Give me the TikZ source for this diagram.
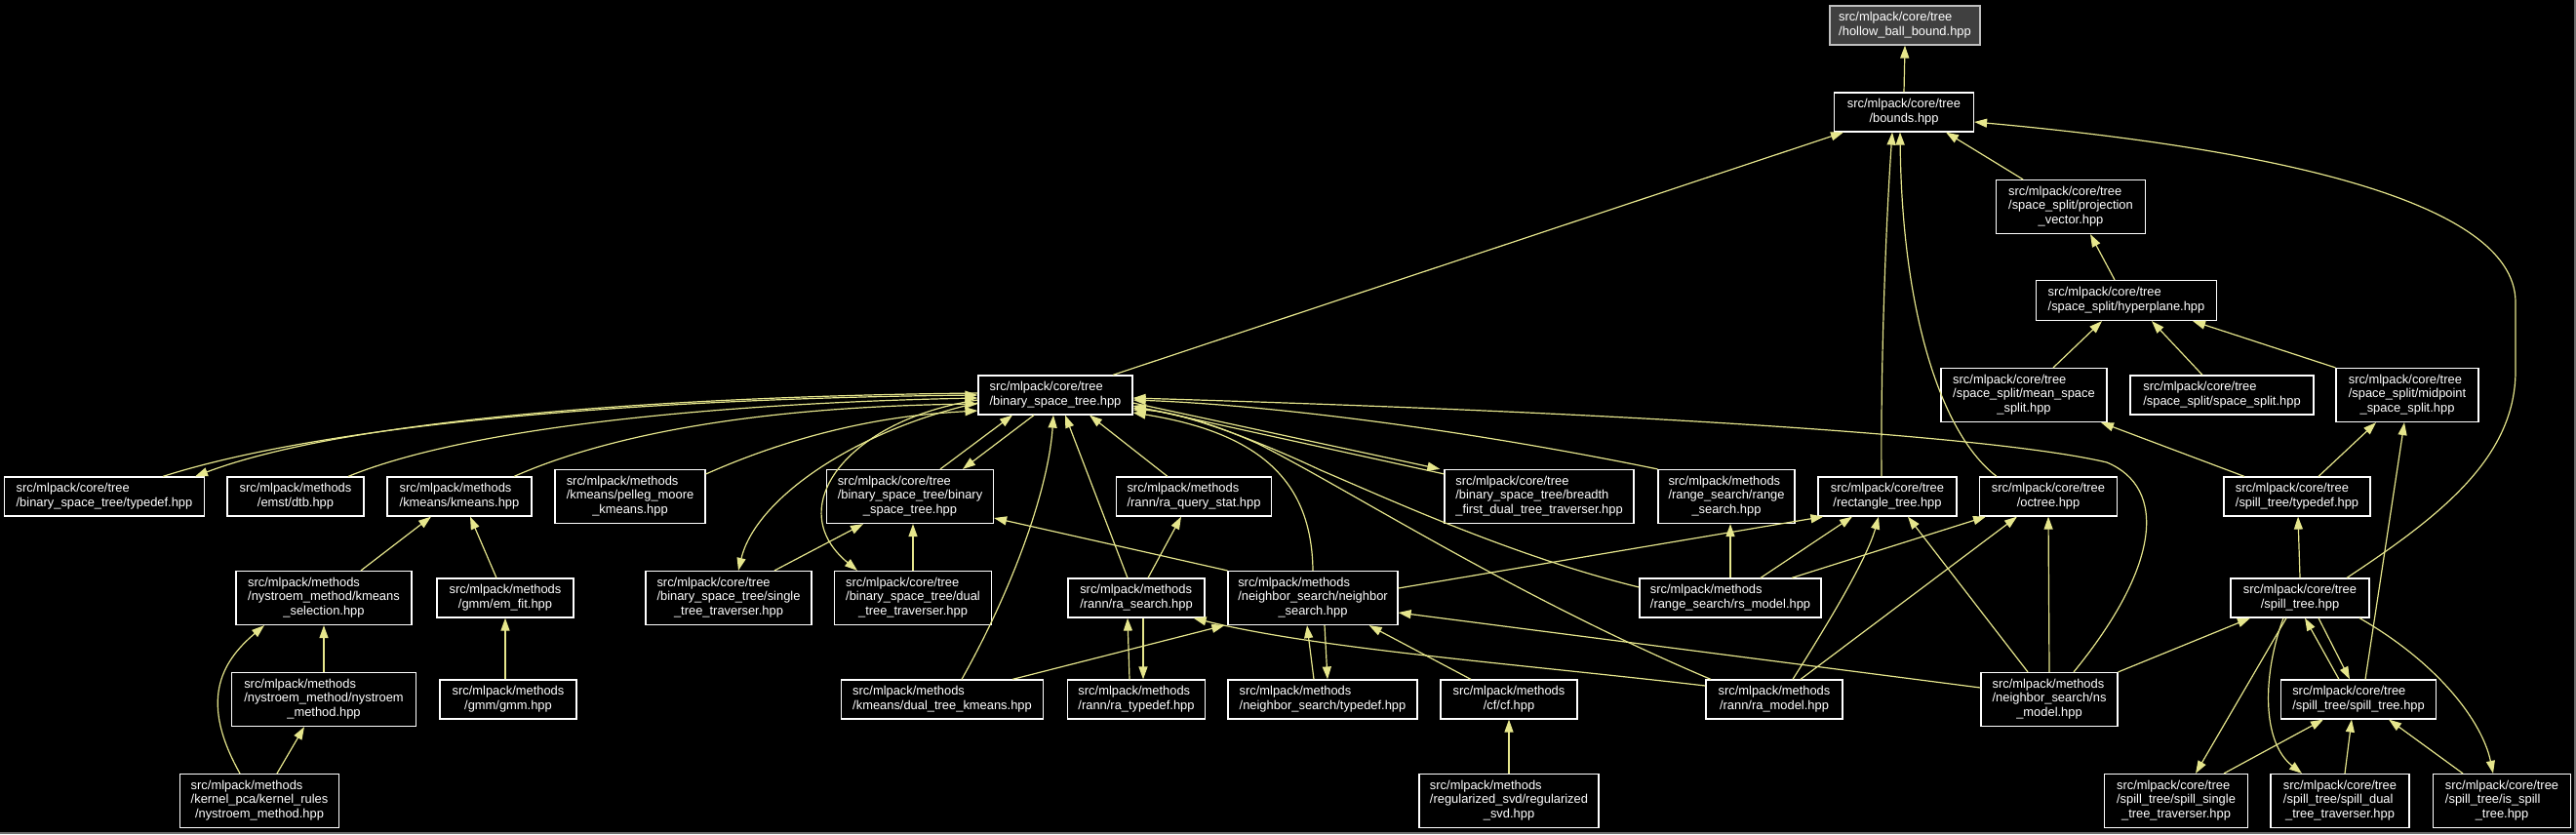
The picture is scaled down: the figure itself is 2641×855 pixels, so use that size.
\documentclass[tikz,border=0pt]{standalone}
\usepackage{fontspec}
\setmainfont{Liberation Sans}
\usetikzlibrary{arrows.meta}
\definecolor{edgec}{RGB}{230,230,140}
\definecolor{hollowfill}{RGB}{64,64,64}
\definecolor{hollowdraw}{RGB}{191,191,191}
\definecolor{framec}{RGB}{110,110,110}
\newcommand{\lbltwo}[2]{\begin{tabular}{@{}l@{}}#1\\\multicolumn{1}{@{}c@{}}{#2}\end{tabular}}
\newcommand{\lblthree}[3]{\begin{tabular}{@{}l@{}}#1\\#2\\\multicolumn{1}{@{}c@{}}{#3}\end{tabular}}
\begin{document}
\begin{tikzpicture}[x=1pt,y=-1pt,
  box/.style={draw=white, fill=black, text=white, line width=1.2pt, inner sep=0pt,
    font=\fontsize{12.9}{14.3}\selectfont},
  hbox/.style={box, fill=hollowfill, draw=hollowdraw},
  edge/.style={draw=edgec, line width=1.2pt, -{Triangle[length=13pt,width=9pt]}}]
\fill[black] (0,0) rectangle (2641,855);
\useasboundingbox (0,0) rectangle (2641,855);
\draw[framec, line width=2pt] (0,854) -- (2640,854) -- (2640,0);

% nodes
\node[hbox, minimum width=154pt, minimum height=40pt] (hollow) at (1953,26) {\lbltwo{src/mlpack/core/tree}{/hollow\_ball\_bound.hpp}};
\node[box, minimum width=143pt, minimum height=40pt] (bounds) at (1952,115) {\lbltwo{src/mlpack/core/tree}{/bounds.hpp}};
\node[box, minimum width=153pt, minimum height=55pt] (projvec) at (2123,212) {\lblthree{src/mlpack/core/tree}{/space\_split/projection}{\_vector.hpp}};
\node[box, minimum width=185pt, minimum height=41pt] (hyperplane) at (2180,308) {\lbltwo{src/mlpack/core/tree}{/space\_split/hyperplane.hpp}};
\node[box, minimum width=170pt, minimum height=55pt] (meansplit) at (2075,405) {\lblthree{src/mlpack/core/tree}{/space\_split/mean\_space}{\_split.hpp}};
\node[box, minimum width=188pt, minimum height=40pt] (spacesplit) at (2278,405) {\lbltwo{src/mlpack/core/tree}{/space\_split/space\_split.hpp}};
\node[box, minimum width=146pt, minimum height=55pt] (midpoint) at (2468,405) {\lblthree{src/mlpack/core/tree}{/space\_split/midpoint}{\_space\_split.hpp}};
\node[box, minimum width=158pt, minimum height=40pt] (bst) at (1082,405) {\lbltwo{src/mlpack/core/tree}{/binary\_space\_tree.hpp}};

\node[box, minimum width=205pt, minimum height=40pt] (bsttypedef) at (107,509) {\lbltwo{src/mlpack/core/tree}{/binary\_space\_tree/typedef.hpp}};
\node[box, minimum width=140pt, minimum height=40pt] (dtb) at (303,509) {\lbltwo{src/mlpack/methods}{/emst/dtb.hpp}};
\node[box, minimum width=148pt, minimum height=40pt] (kmeans) at (471,509) {\lbltwo{src/mlpack/methods}{/kmeans/kmeans.hpp}};
\node[box, minimum width=154pt, minimum height=55pt] (pelleg) at (646,509) {\lblthree{src/mlpack/methods}{/kmeans/pelleg\_moore}{\_kmeans.hpp}};
\node[box, minimum width=171pt, minimum height=55pt] (bstbst) at (933,509) {\lblthree{src/mlpack/core/tree}{/binary\_space\_tree/binary}{\_space\_tree.hpp}};
\node[box, minimum width=159pt, minimum height=40pt] (raquery) at (1224,509) {\lbltwo{src/mlpack/methods}{/rann/ra\_query\_stat.hpp}};
\node[box, minimum width=194pt, minimum height=55pt] (breadth) at (1578,509) {\lblthree{src/mlpack/core/tree}{/binary\_space\_tree/breadth}{\_first\_dual\_tree\_traverser.hpp}};
\node[box, minimum width=140pt, minimum height=55pt] (rangesearch) at (1770,509) {\lblthree{src/mlpack/methods}{/range\_search/range}{\_search.hpp}};
\node[box, minimum width=142pt, minimum height=40pt] (rect) at (1935,509) {\lbltwo{src/mlpack/core/tree}{/rectangle\_tree.hpp}};
\node[box, minimum width=141pt, minimum height=40pt] (octree) at (2100,509) {\lbltwo{src/mlpack/core/tree}{/octree.hpp}};
\node[box, minimum width=150pt, minimum height=40pt] (spilltypedef) at (2355,509) {\lbltwo{src/mlpack/core/tree}{/spill\_tree/typedef.hpp}};

\node[box, minimum width=180pt, minimum height=55pt] (kmsel) at (332,613) {\lblthree{src/mlpack/methods}{/nystroem\_method/kmeans}{\_selection.hpp}};
\node[box, minimum width=140pt, minimum height=40pt] (emfit) at (518,613) {\lbltwo{src/mlpack/methods}{/gmm/em\_fit.hpp}};
\node[box, minimum width=170pt, minimum height=55pt] (single) at (747,613) {\lblthree{src/mlpack/core/tree}{/binary\_space\_tree/single}{\_tree\_traverser.hpp}};
\node[box, minimum width=161pt, minimum height=55pt] (bstdual) at (936,613) {\lblthree{src/mlpack/core/tree}{/binary\_space\_tree/dual}{\_tree\_traverser.hpp}};
\node[box, minimum width=140pt, minimum height=40pt] (rasearch) at (1165,613) {\lbltwo{src/mlpack/methods}{/rann/ra\_search.hpp}};
\node[box, minimum width=174pt, minimum height=55pt] (ns) at (1346,613) {\lblthree{src/mlpack/methods}{/neighbor\_search/neighbor}{\_search.hpp}};
\node[box, minimum width=186pt, minimum height=40pt] (rsmodel) at (1774,613) {\lbltwo{src/mlpack/methods}{/range\_search/rs\_model.hpp}};
\node[box, minimum width=142pt, minimum height=40pt] (spilltree) at (2358,613) {\lbltwo{src/mlpack/core/tree}{/spill\_tree.hpp}};

\node[box, minimum width=189pt, minimum height=55pt] (nysmethod) at (332,717) {\lblthree{src/mlpack/methods}{/nystroem\_method/nystroem}{\_method.hpp}};
\node[box, minimum width=140pt, minimum height=40pt] (gmm) at (521,717) {\lbltwo{src/mlpack/methods}{/gmm/gmm.hpp}};
\node[box, minimum width=207pt, minimum height=40pt] (dtkmeans) at (966,717) {\lbltwo{src/mlpack/methods}{/kmeans/dual\_tree\_kmeans.hpp}};
\node[box, minimum width=141pt, minimum height=40pt] (ratypedef) at (1165,717) {\lbltwo{src/mlpack/methods}{/rann/ra\_typedef.hpp}};
\node[box, minimum width=194pt, minimum height=40pt] (nstypedef) at (1356,717) {\lbltwo{src/mlpack/methods}{/neighbor\_search/typedef.hpp}};
\node[box, minimum width=140pt, minimum height=40pt] (cf) at (1547,717) {\lbltwo{src/mlpack/methods}{/cf/cf.hpp}};
\node[box, minimum width=140pt, minimum height=40pt] (ramodel) at (1819,717) {\lbltwo{src/mlpack/methods}{/rann/ra\_model.hpp}};
\node[box, minimum width=140pt, minimum height=55pt] (nsmodel) at (2101,717) {\lblthree{src/mlpack/methods}{/neighbor\_search/ns}{\_model.hpp}};
\node[box, minimum width=159pt, minimum height=40pt] (stst) at (2418,717) {\lbltwo{src/mlpack/core/tree}{/spill\_tree/spill\_tree.hpp}};

\node[box, minimum width=163pt, minimum height=55pt] (kernel) at (266,821) {\lblthree{src/mlpack/methods}{/kernel\_pca/kernel\_rules}{/nystroem\_method.hpp}};
\node[box, minimum width=184pt, minimum height=55pt] (rsvd) at (1547,821) {\lblthree{src/mlpack/methods}{/regularized\_svd/regularized}{\_svd.hpp}};
\node[box, minimum width=147pt, minimum height=55pt] (spillsingle) at (2231,821) {\lblthree{src/mlpack/core/tree}{/spill\_tree/spill\_single}{\_tree\_traverser.hpp}};
\node[box, minimum width=142pt, minimum height=55pt] (spilldual) at (2399,821) {\lblthree{src/mlpack/core/tree}{/spill\_tree/spill\_dual}{\_tree\_traverser.hpp}};
\node[box, minimum width=141pt, minimum height=55pt] (isspill) at (2565,821) {\lblthree{src/mlpack/core/tree}{/spill\_tree/is\_spill}{\_tree.hpp}};

% edges: upper part
\draw[edge] (bounds.north) -- (hollow.south);
\draw[edge] ([xshift=59pt]bst.north) -- ([xshift=-62pt]bounds.south);
\draw[edge] ([xshift=-49pt]projvec.north) -- ([xshift=43pt]bounds.south);
\draw[edge] ([xshift=-6pt]rect.north) .. controls (1928,400) and (1932,250) .. ([xshift=-12pt]bounds.south);
\draw[edge] ([xshift=-53pt]octree.north) .. controls (1990,445) and (1950,320) .. ([xshift=-4pt]bounds.south);
\draw[edge] ([xshift=48pt]spilltree.north) .. controls (2500,530) and (2579,470) .. (2579,380) -- (2579,310) .. controls (2579,200) and (2300,150) .. ([yshift=-10pt]bounds.east);
\draw[edge] ([xshift=-12pt]hyperplane.north) -- ([xshift=20pt]projvec.south);
\draw[edge] ([xshift=30pt]meansplit.north) -- ([xshift=-25pt]hyperplane.south);
\draw[edge] ([xshift=-20pt]spacesplit.north) -- ([xshift=26pt]hyperplane.south);
\draw[edge] (midpoint.north west) -- ([xshift=68pt]hyperplane.south);
\draw[edge] ([xshift=-54pt]spilltypedef.north) -- ([xshift=79pt]meansplit.south);
\draw[edge] ([xshift=22pt]spilltypedef.north) -- ([xshift=-32pt]midpoint.south);
\draw[edge] ([xshift=7pt]stst.north) -- ([xshift=-3pt]midpoint.south);
\draw[edge] (spilltree.north) -- ([xshift=1pt]spilltypedef.south);

% spill tree area
\draw[edge] (nsmodel.north east) -- ([xshift=-51pt]spilltree.south);
\draw[edge] ([xshift=-20pt]stst.north) -- ([xshift=5pt]spilltree.south);
\draw[edge] ([xshift=19pt]spilltree.south) -- ([xshift=-9pt]stst.north);
\draw[edge] ([xshift=-14pt]spilltree.south) -- ([xshift=20pt]spillsingle.north);
\draw[edge] ([xshift=-17pt]spilltree.south) .. controls (2320,690) and (2318,760) .. ([xshift=-39pt]spilldual.north);
\draw[edge] ([xshift=61pt]spilltree.south) .. controls (2500,680) and (2545,740) .. ([xshift=-9pt]isspill.north);
\draw[edge] ([xshift=49pt]spillsingle.north) -- ([xshift=-36pt]stst.south);
\draw[edge] ([xshift=5pt]spilldual.north) -- ([xshift=-7pt]stst.south);
\draw[edge] ([xshift=-40pt]isspill.north) -- ([xshift=31pt]stst.south);

% rect / octree
\draw[edge] ([xshift=-22pt]nsmodel.north) -- ([xshift=21pt]rect.south);
\draw[edge] (nsmodel.north) -- (octree.south);
\draw[edge] ([yshift=10pt]ns.east) -- ([xshift=6pt]rect.south west);
\draw[edge] ([xshift=31pt]rsmodel.north) -- ([xshift=-36pt]rect.south);
\draw[edge] ([xshift=63pt]rsmodel.north) -- ([xshift=-64pt]octree.south);
\draw[edge] (rsmodel.north) -- ([xshift=4pt]rangesearch.south);
\draw[edge] ([xshift=19pt]ramodel.north) .. controls (1880,630) and (1915,570) .. ([xshift=-9pt]rect.south);
\draw[edge] ([xshift=27pt]ramodel.north) -- ([xshift=-32pt]octree.south);

% into bst right side
\draw[edge] ([xshift=25pt]nsmodel.north) .. controls (2215,580) and (2222,500) .. (2160,474) .. controls (2050,448) and (1700,424) .. ([yshift=-3pt]bst.east);
\draw[edge] (rangesearch.north west) .. controls (1500,440) and (1300,415) .. ([yshift=-5pt]bst.east);
\draw[edge] ([yshift=-8pt]bst.east) -- ([xshift=-4pt]breadth.north west);
\draw[edge] ([yshift=-5pt]breadth.north west) -- ([yshift=-11pt]bst.east);
\draw[edge] ([yshift=11pt]rsmodel.west) .. controls (1550,570) and (1420,510) .. (1354,482) .. controls (1290,452) and (1220,425) .. ([yshift=-13pt]bst.east);
\draw[edge] ([xshift=-65pt]ramodel.north) .. controls (1550,610) and (1380,500) .. (1290,455) .. controls (1230,428) and (1190,421) .. ([yshift=-15pt]bst.east);
\draw[edge] (ns.north) .. controls (1345,500) and (1300,445) .. ([yshift=-18pt]bst.east);

% ns, ra area
\draw[edge] ([yshift=14pt]ramodel.west) .. controls (1550,680) and (1350,665) .. ([xshift=-12pt]rasearch.south east);
\draw[edge] ([yshift=12pt]nsmodel.west) -- ([yshift=-15pt]ns.east);
\draw[edge] ([xshift=-39pt]cf.north) -- ([xshift=-30pt]ns.south east);
\draw[edge] (rsvd.north) -- (cf.south);
\draw[edge] ([xshift=-9pt]nstypedef.north) -- ([xshift=-6pt]ns.south);
\draw[edge] ([xshift=12pt]ns.south) -- ([xshift=5pt]nstypedef.north);
\draw[edge] ([xshift=-7pt]ratypedef.north) -- ([xshift=-9pt]rasearch.south);
\draw[edge] ([xshift=7pt]rasearch.south) -- ([xshift=7pt]ratypedef.north);
\draw[edge] ([xshift=72pt]dtkmeans.north) -- ([xshift=-3pt]ns.south west);
\draw[edge] ([xshift=20pt]dtkmeans.north) .. controls (1040,600) and (1075,500) .. ([xshift=-2pt]bst.south);
\draw[edge] ([xshift=-9pt]rasearch.north) -- ([xshift=10pt]bst.south);
\draw[edge] ([xshift=12pt]rasearch.north) -- ([xshift=-13pt]raquery.south);
\draw[edge] ([xshift=-27pt]raquery.north) -- ([xshift=35pt]bst.south);
\draw[edge] ([xshift=31pt]bstbst.north) -- ([xshift=-44pt]bst.south);
\draw[edge] ([xshift=-22pt]bst.south) -- ([xshift=54pt]bstbst.north);
\draw[edge] (ns.north west) -- ([yshift=-22pt]bstbst.east);
\draw[edge] ([xshift=47pt]single.north) -- ([xshift=-48pt]bstbst.south);
\draw[edge] (bstdual.north) -- ([xshift=3pt]bstbst.south);

% bst left side
\draw[edge] ([yshift=-8pt]bst.west) .. controls (880,440) and (775,510) .. ([xshift=10pt]single.north);
\draw[edge] ([yshift=-5pt]bst.west) .. controls (870,430) and (800,520) .. ([xshift=-57pt]bstdual.north);
\draw[edge] ([xshift=60pt]bsttypedef.north) .. controls (350,430) and (700,408) .. ([yshift=0pt]bst.west);
\draw[edge] ([yshift=2pt]bst.west) .. controls (700,406) and (360,428) .. ([xshift=93pt]bsttypedef.north);
\draw[edge] ([xshift=54pt]dtb.north) .. controls (500,430) and (800,412) .. ([yshift=-3pt]bst.west);
\draw[edge] ([xshift=56pt]kmeans.north) .. controls (660,430) and (850,416) .. ([yshift=-9pt]bst.west);
\draw[edge] ([yshift=23pt]pelleg.east) .. controls (850,430) and (950,424) .. ([yshift=-16pt]bst.west);

% lower left
\draw[edge] ([xshift=38pt]kmsel.north) -- ([xshift=-29pt]kmeans.south);
\draw[edge] ([xshift=-9pt]emfit.north) -- ([xshift=11pt]kmeans.south);
\draw[edge] ([xshift=-3pt]gmm.north) -- (emfit.south);
\draw[edge] (nysmethod.north) -- (kmsel.south);
\draw[edge] ([xshift=-20pt]kernel.north) .. controls (205,720) and (225,680) .. ([xshift=-61pt]kmsel.south);
\draw[edge] ([xshift=18pt]kernel.north) -- ([xshift=-20pt]nysmethod.south);
\end{tikzpicture}
\end{document}
